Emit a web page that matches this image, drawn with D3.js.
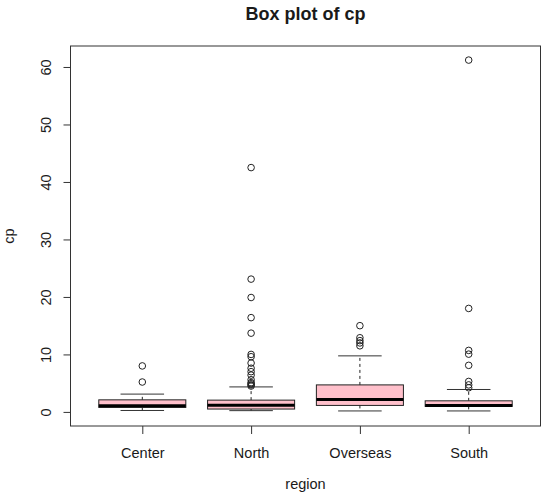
<!DOCTYPE html>
<html>
<head>
<meta charset="utf-8">
<script src="https://cdn.jsdelivr.net/npm/d3@7"></script>
<style>
  html, body { margin: 0; padding: 0; background: #fff; }
  svg text { font-family: "Liberation Sans", Arial, sans-serif; fill: #1a1a1a; }
</style>
</head>
<body>
<div id="container"></div>
<script>
/** CONSTANTS AND GLOBALS */
const width = 550,
  height = 497,
  margin = { top: 46, bottom: 71, left: 70.5, right: 9.5 };

/** DATA */
const categories = ["Center", "North", "Overseas", "South"];
const lowWhisker = [0.25, 0.22, 0.17, 0.17];
const q1 = [0.78, 0.5, 1.13, 0.96];
const medians = [1.06, 1.15, 2.17, 1.13];
const q3 = [2.1, 2.05, 4.7, 1.93];
const highWhisker = [3.1, 4.35, 9.75, 3.9];
const outliers = [
  [5.2, 8.0],
  [4.5, 4.7, 4.9, 5.1, 5.6, 6.4, 7.0, 7.6, 8.5, 9.6, 10.0, 13.7, 16.4, 19.9, 23.1, 42.5],
  [11.5, 12.0, 12.4, 12.9, 15.0],
  [4.2, 4.7, 5.3, 8.1, 10.05, 10.7, 18.0, 61.2]
];
const yTicks = [0, 10, 20, 30, 40, 50, 60];

const title = "Box plot of cp",
  xLabel = "region",
  yLabel = "cp";

/** INIT */
const svg = d3.select("#container")
  .append("svg")
  .attr("width", width)
  .attr("height", height);

// R pads the axis range by 4% on each side
const x = d3.scaleLinear()
  .domain([0.5 - 0.16, categories.length + 0.5 + 0.16])
  .range([margin.left, width - margin.right]);

const y = d3.scaleLinear()
  .domain([-2.45, 63.65])
  .range([height - margin.bottom, margin.top]);

const unit = x(1) - x(0);
const boxW = unit * 0.8,
  capW = boxW * 0.5;

// axes
const yAxis = svg.append("g")
  .attr("transform", `translate(${margin.left},0)`)
  .call(d3.axisLeft(y).tickValues(yTicks).tickSize(7).tickPadding(0));
yAxis.select(".domain").remove();
yAxis.selectAll("line").attr("stroke", "#333");
yAxis.selectAll("text")
  .attr("x", 0)
  .attr("dy", 0)
  .attr("transform", "translate(-20,0) rotate(-90)")
  .attr("text-anchor", "middle")
  .style("font-size", "14.5px")
  .style("font-family", "'Liberation Sans', Arial, sans-serif")
  .attr("fill", "#1a1a1a");

const xAxis = svg.append("g")
  .attr("transform", `translate(0,${height - margin.bottom})`)
  .call(d3.axisBottom(x).tickValues(d3.range(1, categories.length + 1))
    .tickFormat(d => categories[d - 1]).tickSize(8).tickPadding(0));
xAxis.select(".domain").remove();
xAxis.selectAll("line").attr("stroke", "#333");
xAxis.selectAll("text")
  .attr("y", 32)
  .attr("dy", 0)
  .style("font-size", "14.5px")
  .style("font-family", "'Liberation Sans', Arial, sans-serif")
  .attr("fill", "#1a1a1a");

// frame
svg.append("rect")
  .attr("x", margin.left)
  .attr("y", margin.top)
  .attr("width", width - margin.left - margin.right)
  .attr("height", height - margin.top - margin.bottom)
  .attr("fill", "none")
  .attr("stroke", "#333")
  .attr("stroke-width", 1);

// boxes
const groups = svg.selectAll(".grp")
  .data(categories)
  .join("g")
  .attr("class", "grp");

// whiskers (dashed)
groups.append("line")
  .attr("x1", (d, i) => x(i + 1)).attr("x2", (d, i) => x(i + 1))
  .attr("y1", (d, i) => y(q3[i])).attr("y2", (d, i) => y(highWhisker[i]))
  .attr("stroke", "#222").attr("stroke-dasharray", "3,3");
groups.append("line")
  .attr("x1", (d, i) => x(i + 1)).attr("x2", (d, i) => x(i + 1))
  .attr("y1", (d, i) => y(q1[i])).attr("y2", (d, i) => y(lowWhisker[i]))
  .attr("stroke", "#222").attr("stroke-dasharray", "3,3");

// caps
groups.append("line")
  .attr("x1", (d, i) => x(i + 1) - capW / 2).attr("x2", (d, i) => x(i + 1) + capW / 2)
  .attr("y1", (d, i) => y(highWhisker[i])).attr("y2", (d, i) => y(highWhisker[i]))
  .attr("stroke", "#333");
groups.append("line")
  .attr("x1", (d, i) => x(i + 1) - capW / 2).attr("x2", (d, i) => x(i + 1) + capW / 2)
  .attr("y1", (d, i) => y(lowWhisker[i])).attr("y2", (d, i) => y(lowWhisker[i]))
  .attr("stroke", "#333");

// box
groups.append("rect")
  .attr("x", (d, i) => x(i + 1) - boxW / 2)
  .attr("width", boxW)
  .attr("y", (d, i) => y(q3[i]))
  .attr("height", (d, i) => y(q1[i]) - y(q3[i]))
  .attr("fill", "#ffc0cb")
  .attr("stroke", "#222");

// median
groups.append("line")
  .attr("x1", (d, i) => x(i + 1) - boxW / 2).attr("x2", (d, i) => x(i + 1) + boxW / 2)
  .attr("y1", (d, i) => y(medians[i])).attr("y2", (d, i) => y(medians[i]))
  .attr("stroke", "#000").attr("stroke-width", 3);

// outliers
groups.selectAll("circle")
  .data((d, i) => outliers[i].map(v => ({ i, v })))
  .join("circle")
  .attr("cx", d => x(d.i + 1))
  .attr("cy", d => y(d.v))
  .attr("r", 3.3)
  .attr("fill", "none")
  .attr("stroke", "#222")
  .attr("stroke-width", 1);

// labels
svg.append("text")
  .attr("x", (margin.left + width - margin.right) / 2)
  .attr("y", 20)
  .attr("text-anchor", "middle")
  .style("font-size", "18px")
  .style("font-weight", "bold")
  .text(title);

svg.append("text")
  .attr("x", (margin.left + width - margin.right) / 2)
  .attr("y", 489)
  .attr("text-anchor", "middle")
  .style("font-size", "14.5px")
  .text(xLabel);

svg.append("text")
  .attr("transform", `translate(14,${(margin.top + height - margin.bottom) / 2}) rotate(-90)`)
  .attr("text-anchor", "middle")
  .style("font-size", "14.5px")
  .text(yLabel);
</script>
</body>
</html>
